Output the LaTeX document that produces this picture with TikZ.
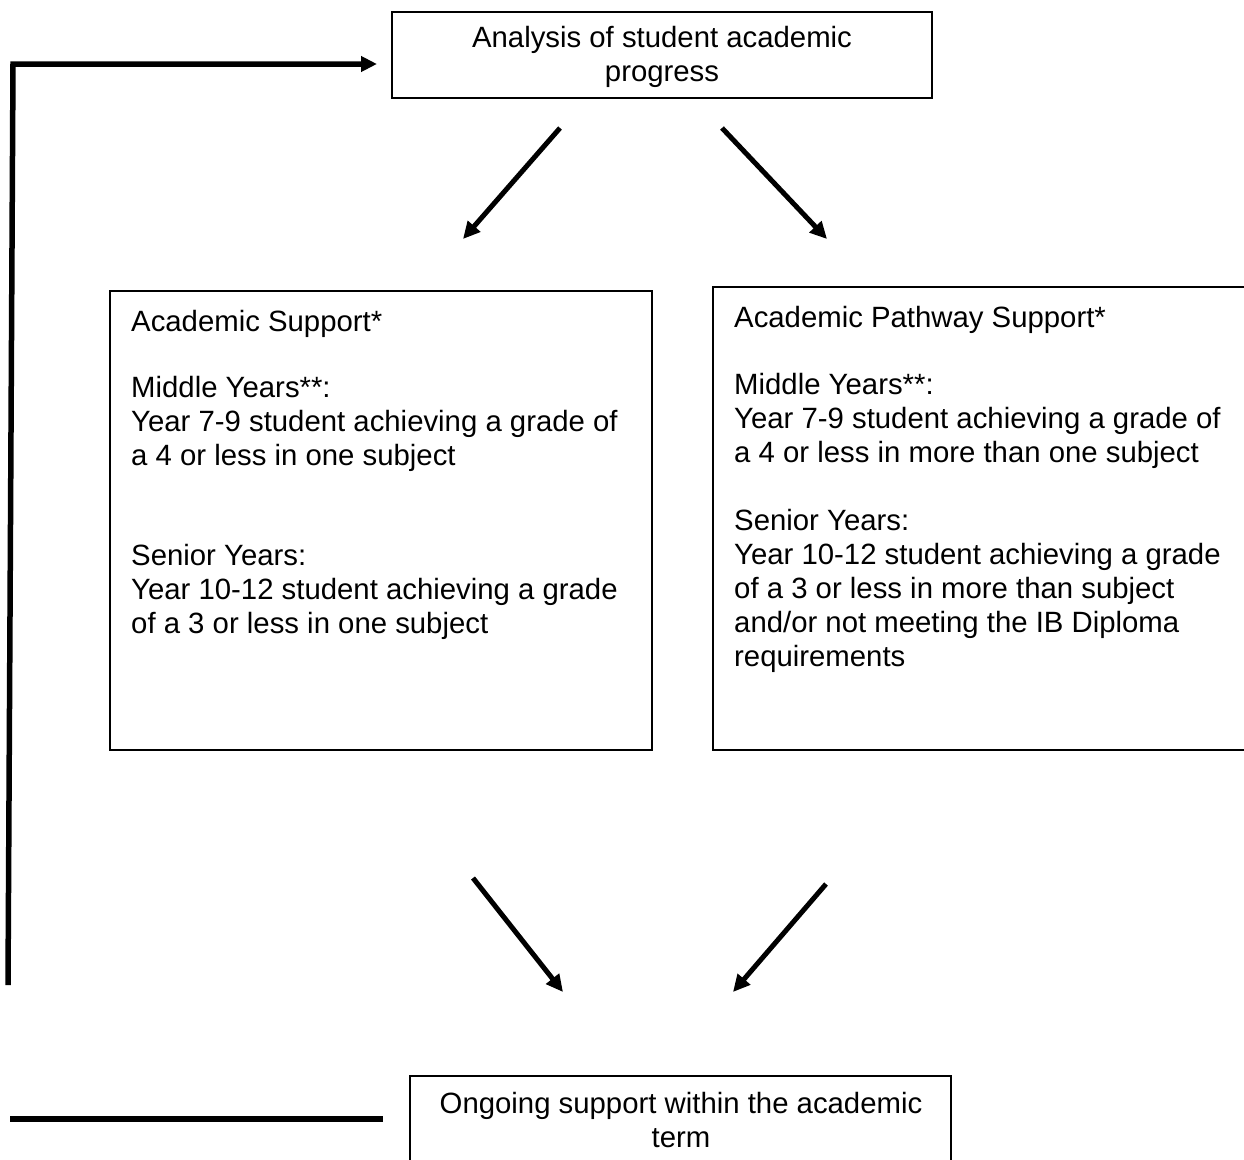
\documentclass[tikz,border=0pt]{standalone}
\usepackage{fontspec}
\setmainfont{Liberation Sans}
\usetikzlibrary{arrows.meta}
\begin{document}
\begin{tikzpicture}[x=1pt,y=-1pt,
  box/.style={draw=black,line width=1.6pt,inner sep=0pt},
  txt/.style={inner sep=0pt,font=\fontsize{29.33}{34}\selectfont},
  arr/.style={line width=5pt,-{Triangle[length=17pt,width=16pt]}},
  bar/.style={line width=5.5pt}]
\useasboundingbox (0,0) rectangle (1244,1159);
\fill[white] (0,0) rectangle (1244,1159);

% boxes
\node[box,minimum width=540pt,minimum height=86pt] (top) at (662,55) {};
\node[box,minimum width=542pt,minimum height=459pt] (left) at (381,520.5) {};
\node[box,minimum width=535pt,minimum height=463pt] (right) at (980.5,518.5) {};
\node[box,minimum width=541pt,minimum height=90pt] (bottom) at (680.5,1121) {};

% texts
\node[txt,align=center,anchor=north] (toptxt) at (662,26) {Analysis of student academic\\progress};
\node[txt,align=left,anchor=north west] (lefttxt) at (131,310) {Academic Support*\\[32pt]
Middle Years**:\\
Year 7-9 student achieving a grade of\\
a 4 or less in one subject\\[66pt]
Senior Years:\\
Year 10-12 student achieving a grade\\
of a 3 or less in one subject};
\node[txt,align=left,anchor=north west] (righttxt) at (734,306) {Academic Pathway Support*\\[33pt]
Middle Years**:\\
Year 7-9 student achieving a grade of\\
a 4 or less in more than one subject\\[34pt]
Senior Years:\\
Year 10-12 student achieving a grade\\
of a 3 or less in more than subject\\
and/or not meeting the IB Diploma\\
requirements};
\node[txt,align=center,anchor=north] (bottomtxt) at (681,1092) {Ongoing support within the academic\\term};

% arrow end points
\coordinate (a1s) at (560,128);
\coordinate (a1e) at (463,239);
\coordinate (a2s) at (722,128);
\coordinate (a2e) at (827,239);
\coordinate (a3s) at (473,878);
\coordinate (a3e) at (563,992);
\coordinate (a4s) at (826,884);
\coordinate (a4e) at (733,992);
\draw[arr] (a1s) -- (a1e);
\draw[arr] (a2s) -- (a2e);
\draw[arr] (a3s) -- (a3e);
\draw[arr] (a4s) -- (a4e);

% feedback line
\coordinate (fb0) at (8,985);
\coordinate (fb1) at (13,64);
\coordinate (fb2) at (377,64);
\draw[bar,-{Triangle[length=16pt,width=15pt]}] (fb0) -- (fb1) -- (fb2);

\coordinate (hb0) at (10,1119);
\coordinate (hb1) at (383,1119);
\draw[bar] (hb0) -- (hb1);
\end{tikzpicture}
\end{document}
